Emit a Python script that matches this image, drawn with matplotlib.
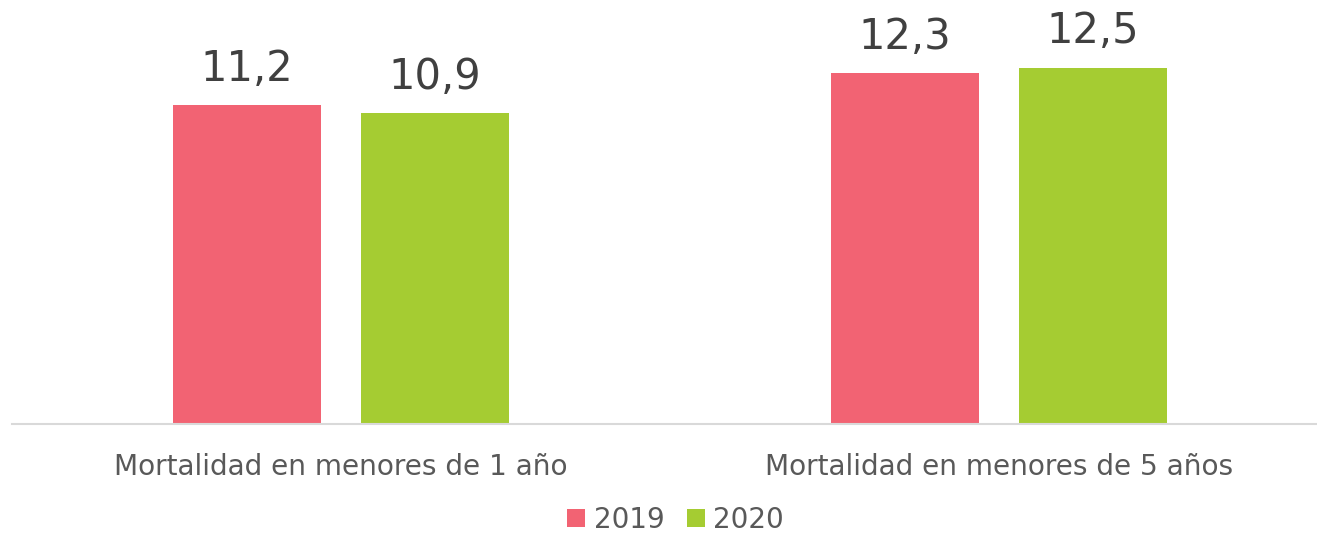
import matplotlib.pyplot as plt
import numpy as np

categories = ["Mortalidad en menores de 1 año", "Mortalidad en menores de 5 años"]
years = ["2019", "2020"]
values_2019 = [11.2, 12.3]
values_2020 = [10.9, 12.5]
colors = ["#F26373", "#A5CC32"]

plt.rcParams['font.family'] = ['DejaVu Sans']

fig = plt.figure(figsize=(13.17, 5.4), dpi=100)
ax = fig.add_axes([12 / 1317, 116 / 540, 1305 / 1317, 399 / 540])

x = np.arange(len(categories))
w = 0.2248
off = 0.1427
b1 = ax.bar(x - off, values_2019, w, color=colors[0], label=years[0])
b2 = ax.bar(x + off, values_2020, w, color=colors[1], label=years[1])

for bars in (b1, b2):
    ax.bar_label(bars, labels=[f"{v:.1f}".replace(".", ",") for v in bars.datavalues],
                 padding=11, fontsize=30, color="#404040")

ax.set_xlim(-0.5, 1.483)
ax.set_ylim(0, 14)
ax.set_xticks(x)
ax.set_xticklabels(categories, fontsize=20.2, color="#595959")
ax.tick_params(axis='x', length=0, pad=21)
ax.set_yticks([])
for s in ("top", "right", "left"):
    ax.spines[s].set_visible(False)
ax.spines["bottom"].set_color("#D9D9D9")
ax.spines["bottom"].set_linewidth(1.5)

fig.legend(loc="lower center", bbox_to_anchor=(0.513, -0.035), ncol=2, frameon=False,
           fontsize=20, labelcolor="#595959", handlelength=0.65, handleheight=0.65,
           handletextpad=0.3, columnspacing=0.8)

fig.savefig("out.png", dpi=100)
